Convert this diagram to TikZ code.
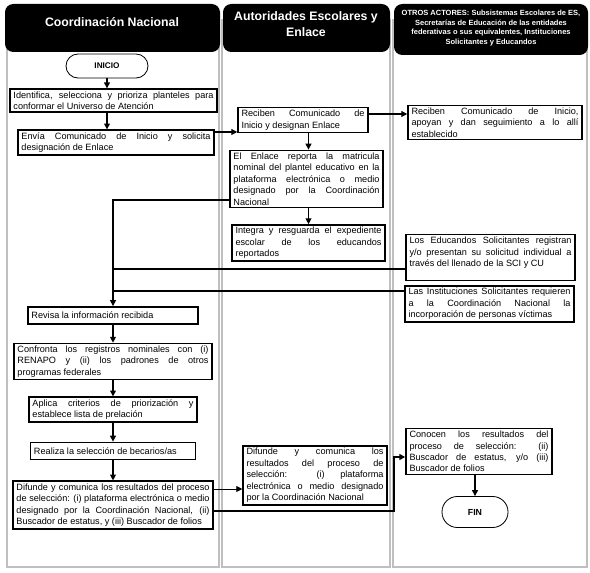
\documentclass[tikz,border=0pt]{standalone}
\usepackage{fontspec}
\setmainfont{Liberation Sans}
\usetikzlibrary{arrows.meta,calc}
\hyphenpenalty=10000
\tikzset{
  paso/.style={draw, line width=1.25pt, fill=white, inner xsep=3pt, inner ysep=2pt, align=justify, font=\fontsize{7.8}{9.8}\selectfont},
  term/.style={draw, line width=0.7pt, fill=white, font=\fontsize{7}{8}\selectfont\bfseries},
  carril/.style={draw=black!25, line width=1.8pt},
  cabeza/.style={fill=black, rounded corners=0.25cm},
  titulo/.style={text=white, align=center, font=\fontsize{10.5}{13}\selectfont\bfseries},
  arr/.style={-{Triangle[length=5pt,width=5pt]}, line width=0.95pt},
  arrf/.style={-{Triangle[length=5pt,width=5pt]}, line width=0.6pt},
  arrg/.style={-{Triangle[length=5pt,width=5pt]}, line width=1.7pt},
  lin/.style={line width=0.95pt},
}
\begin{document}
\begin{tikzpicture}[x=0.03cm,y=-0.03cm]
  \useasboundingbox (0,0) rectangle (590,573);
  \foreach \xa/\xb in {7/219,222/390,393/587}
    \draw[carril] (\xa,20) rectangle (\xb,567);
  \fill[cabeza] (5,4) rectangle (220,52);
  \fill[cabeza] (223,4) rectangle (390,52);
  \fill[cabeza] (394,4) rectangle (588,55);
  \node[titulo] (tCN) at (112,22) {Coordinación Nacional};
  \node[titulo] (tAE) at (306,24) {Autoridades Escolares y\\Enlace};
  \node[titulo, font=\fontsize{6.4}{8.2}\selectfont\bfseries] (tOA) at (491,28) {OTROS ACTORES: Subsistemas Escolares de ES,\\Secretarías de Educación de las entidades\\federativas o sus equivalentes, Instituciones\\Solicitantes y Educandos};

  \node[term, minimum width=2.46cm, minimum height=0.72cm, rounded corners=0.36cm] (Inicio) at (107,66) {INICIO};
  \node[paso, text width=6.0cm] (Identifica) at (113.5,100.5) {Identifica, selecciona y prioriza planteles para\linebreak conformar el Universo de Atención};
  \node[paso, text width=5.67cm] (Envia) at (116,142.5) {Envía Comunicado de Inicio y solicita\linebreak designación de Enlace};
  \node[paso, text width=4.89cm, minimum height=0.52cm] (Revisa) at (113,315.5) {Revisa la información recibida};
  \node[paso, text width=5.73cm] (Confronta) at (113,361.5) {Confronta los registros nominales con (i)\linebreak RENAPO y (ii) los padrones de otros\linebreak programas federales};
  \node[paso, text width=4.83cm] (Aplica) at (113,409.5) {Aplica criterios de priorización y\linebreak establece lista de prelación};
  \node[paso, text width=4.74cm, minimum height=0.52cm] (Realiza) at (113,451) {Realiza la selección de becarios/as};
  \node[paso, text width=5.79cm] (Difunde) at (113,505) {Difunde y comunica los resultados del proceso\linebreak de selección: (i) plataforma electrónica o medio\linebreak designado por la Coordinación Nacional, (ii)\linebreak Buscador de estatus, y (iii) Buscador de folios};

  \node[paso, text width=3.69cm] (Reciben) at (303,120) {Reciben Comunicado de\linebreak Inicio y designan Enlace};
  \node[paso, text width=4.38cm] (Enlace) at (306.5,179) {El Enlace reporta la matricula\linebreak nominal del plantel educativo en la\linebreak plataforma electrónica o medio\linebreak designado por la Coordinación\linebreak Nacional};
  \node[paso, text width=4.38cm] (Integra) at (308.5,243) {Integra y resguarda el expediente\linebreak escolar de los educandos\linebreak reportados};
  \node[paso, text width=4.11cm] (DifundeAE) at (315,475.5) {Difunde y comunica los\linebreak resultados del proceso de\linebreak selección: (i) plataforma\linebreak electrónica o medio designado\linebreak por la Coordinación Nacional};

  \node[paso, text width=5.01cm] (Apoyan) at (495,122.5) {Reciben Comunicado de Inicio,\linebreak apoyan y dan seguimiento a lo allí\linebreak establecido};
  \node[paso, text width=4.86cm] (Educandos) at (490.5,257.5) {Los Educandos Solicitantes registran\linebreak y/o presentan su solicitud individual a\linebreak través del llenado de la SCI y CU\\\mbox{}};
  \node[paso, text width=4.86cm] (Instituciones) at (489.5,304) {Las Instituciones Solicitantes requieren\linebreak a la Coordinación Nacional la\linebreak incorporación de personas víctimas};
  \node[paso, text width=4.17cm] (Conocen) at (479,451.5) {Conocen los resultados del\linebreak proceso de selección: (ii)\linebreak Buscador de estatus, y/o (iii)\linebreak Buscador de folios};
  \node[term, minimum width=1.98cm, minimum height=0.93cm, rounded corners=0.46cm, font=\fontsize{7.5}{9}\selectfont\bfseries] (Fin) at (475,512) {FIN};

  \coordinate (yEnv) at (0,132);
  \coordinate (yRec) at (0,114);
  \coordinate (yEnl) at (0,200);
  \coordinate (yEdu) at (0,269);
  \coordinate (yIns) at (0,291);
  \coordinate (yDf1) at (0,489);
  \coordinate (yDf2) at (0,511);
  \coordinate (yCon) at (0,457);
  \coordinate (xCarril) at (394,0);

  \draw[arr] (Inicio.south) -- (Inicio.south |- Identifica.north);
  \draw[arr] (Inicio.south |- Identifica.south) -- (Inicio.south |- Envia.north);
  \draw[arr] (Envia.east |- yEnv) -- (Reciben.west |- yEnv);
  \draw[arr] (Reciben.east |- yRec) -- (Apoyan.west |- yRec);
  \draw[arr] (Integra.north |- Reciben.south) -- (Integra.north |- Enlace.north);
  \draw[arr] (Integra.north |- Enlace.south) -- (Integra.north);
  \draw[arr] (Enlace.west |- yEnl) -| (Revisa.north);
  \draw[lin] (Educandos.west |- yEdu) -- (Revisa.north |- yEdu);
  \draw[lin] (Instituciones.west |- yIns) -- (Revisa.north |- yIns);
  \draw[arr] (Revisa.south) -- (Confronta.north);
  \draw[arr] (Confronta.south) -- (Aplica.north);
  \draw[arr] (Aplica.south) -- (Realiza.north);
  \draw[arr] (Realiza.south) -- (Difunde.north);
  \draw[arrf] (Difunde.east |- yDf1) -- (DifundeAE.west |- yDf1);
  \draw[arrg] (Difunde.east |- yDf2) -- (xCarril |- yDf2) -- (xCarril |- yCon) -- (Conocen.west |- yCon);
  \draw[arr] (Fin.north |- Conocen.south) -- (Fin.north);
\end{tikzpicture}
\end{document}
